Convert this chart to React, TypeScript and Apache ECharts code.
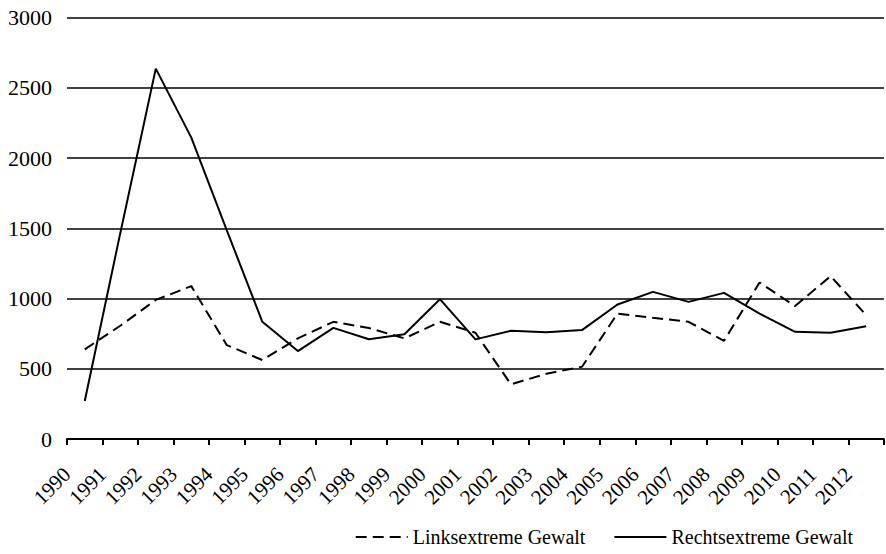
import React, { useEffect, useRef } from "react";
import * as echarts from "echarts";

const years = [
  "1990", "1991", "1992", "1993", "1994", "1995", "1996", "1997", "1998", "1999", "2000", "2001",
  "2002", "2003", "2004", "2005", "2006", "2007", "2008", "2009", "2010", "2011", "2012",
];
const linksNames = "Linksextreme Gewalt";
const rechtsNames = "Rechtsextreme Gewalt";
const links = [638, 806, 990, 1088, 668, 562, 716, 834, 790, 716, 834, 756, 389, 465, 514, 893, 863, 834, 699, 1114, 946, 1159, 882];
const rechts = [270, 1465, 2636, 2145, 1485, 834, 626, 791, 710, 746, 995, 709, 770, 759, 775, 957, 1047, 976, 1040, 893, 763, 756, 803];
const yTicks = { min: 0, max: 3000, interval: 500 };

const FONT = "Liberation Serif";

export default function App() {
  const ref = useRef<HTMLDivElement>(null);
  useEffect(() => {
    if (!ref.current) return;
    const chart = echarts.init(ref.current, undefined, { renderer: "svg" });
    chart.setOption({
      animation: false,
      backgroundColor: "#ffffff",
      textStyle: { fontFamily: FONT, color: "#000" },
      grid: { left: 67, right: 2, top: 17.5, bottom: 115 },
      legend: {
        right: 28,
        bottom: 2,
        itemWidth: 52,
        itemHeight: 14,
        itemGap: 28,
        itemStyle: { opacity: 0 },
        textStyle: { fontFamily: FONT, fontSize: 20, color: "#000" },
        data: [linksNames, rechtsNames],
      },
      xAxis: [
        {
          type: "category",
          data: years,
          boundaryGap: true,
          axisLine: { lineStyle: { color: "#000", width: 2 } },
          axisTick: { show: true, length: 6, lineStyle: { color: "#000", width: 2 } },
          axisLabel: { show: false },
          splitLine: { show: false },
        },
        {
          type: "category",
          data: [...years, ""],
          boundaryGap: false,
          position: "bottom",
          axisLine: { show: false },
          axisTick: { show: false },
          splitLine: { show: false },
          axisLabel: {
            interval: 0,
            rotate: 45,
            margin: 32,
            fontSize: 21,
            fontFamily: FONT,
            color: "#000",
          },
        },
      ],
      yAxis: {
        type: "value",
        min: yTicks.min,
        max: yTicks.max,
        interval: yTicks.interval,
        axisLine: { show: false },
        axisTick: { show: false },
        axisLabel: {
          margin: 15,
          fontSize: 22,
          fontFamily: FONT,
          color: "#000",
          formatter: (v: number) => String(v),
        },
        splitLine: { lineStyle: { color: "#000", width: 1.6 } },
      },
      series: [
        {
          name: linksNames,
          type: "line",
          xAxisIndex: 0,
          data: links,
          symbol: "none",
          lineStyle: { color: "#000", width: 2, type: [11, 6] },
          itemStyle: { color: "#000" },
        },
        {
          name: rechtsNames,
          type: "line",
          xAxisIndex: 0,
          data: rechts,
          symbol: "none",
          lineStyle: { color: "#000", width: 2, type: "solid" },
          itemStyle: { color: "#000" },
        },
      ],
    });
    return () => chart.dispose();
  }, []);
  return (
    <div
      ref={ref}
      style={{ position: "fixed", left: 0, top: 0, width: 886, height: 554 }}
    />
  );
}
